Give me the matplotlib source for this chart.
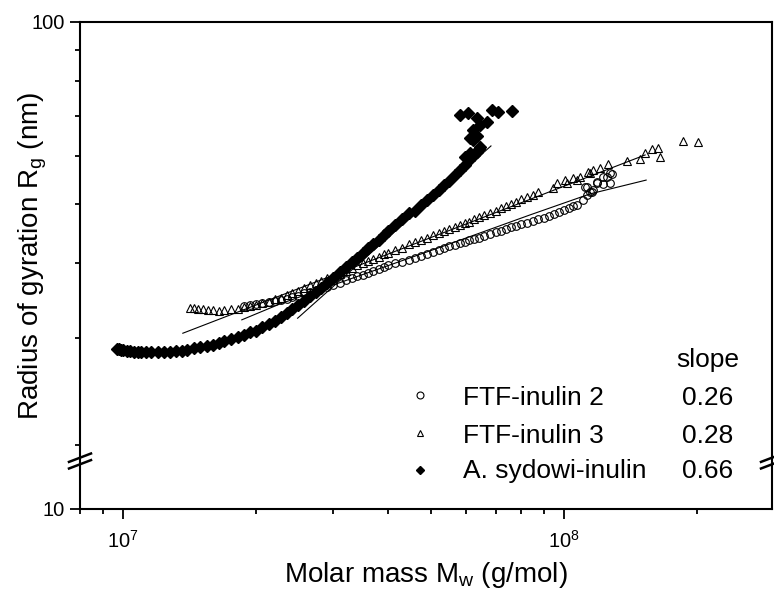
import numpy as np
import matplotlib
matplotlib.use('Agg')
import matplotlib.pyplot as plt
from matplotlib.ticker import FixedLocator, NullFormatter, FixedFormatter

plt.rcParams['font.family'] = ['Liberation Sans', 'DejaVu Sans']
plt.rcParams['mathtext.default'] = 'regular'

# molar mass in units of 1e7 g/mol, radius of gyration in nm
syd_m = [0.97, 0.98, 0.99, 1.0, 1.02, 1.04, 1.06, 1.08, 1.1, 1.13, 1.16, 1.2, 1.24, 1.28,
         1.32, 1.36, 1.4, 1.45, 1.5, 1.55, 1.6, 1.65, 1.7, 1.76, 1.82, 1.88, 1.94, 2.0,
         2.07, 2.14, 2.21, 2.28, 2.35, 2.42, 2.5, 2.58, 2.66, 2.74, 2.82, 2.9, 3.0, 3.1,
         3.2, 3.3, 3.4, 3.5, 3.6, 3.7, 3.8, 3.9, 4.0, 4.15, 4.3, 4.45, 4.6, 4.75, 4.9,
         5.05, 5.2, 5.35, 5.5, 5.65, 5.8, 5.95, 6.1, 6.25, 6.4,
         5.81, 6.06, 6.35, 6.87, 7.09, 7.62, 6.69, 6.45, 6.22, 6.12, 6.35, 6.22, 6.45,
         6.35, 6.12, 5.95]
syd_r = [28.8, 28.8, 28.7, 28.7, 28.6, 28.6, 28.5, 28.5, 28.5, 28.5, 28.5, 28.5, 28.5, 28.5,
         28.6, 28.6, 28.7, 28.9, 29.0, 29.2, 29.3, 29.5, 29.7, 29.9, 30.2, 30.4, 30.7, 30.9,
         31.3, 31.7, 32.1, 32.5, 33.0, 33.5, 34.1, 34.6, 35.2, 35.8, 36.4, 37.0, 37.8, 38.6,
         39.3, 40.1, 40.8, 41.5, 42.3, 43.0, 43.7, 44.5, 45.2, 46.2, 47.3, 48.4, 48.8, 49.8,
         50.8, 51.8, 52.8, 53.8, 54.7, 55.9, 56.9, 58.0, 59.1, 60.4, 61.6,
         70.2, 70.7, 69.4, 71.5, 70.9, 71.2, 68.3, 67.6, 66.3, 64.3, 64.8, 63.8, 62.1,
         61.0, 60.8, 59.8]

ftf3_m = [1.42, 1.45, 1.48, 1.52, 1.56, 1.6, 1.65, 1.7, 1.76, 1.82, 1.88, 1.94, 2.0, 2.07,
          2.14, 2.21, 2.28, 2.35, 2.42, 2.5, 2.58, 2.66, 2.74, 2.82, 2.9, 3.0, 3.1, 3.2, 3.3,
          3.4, 3.5, 3.6, 3.7, 3.8, 3.9, 4.0, 4.15, 4.3, 4.45, 4.6, 4.75, 4.9, 5.05, 5.2,
          5.35, 5.5, 5.65, 5.8, 5.95, 6.1, 6.25, 6.4, 6.6, 6.8, 7.0, 7.2, 7.4, 7.6, 7.8, 8.0,
          8.25, 8.5, 8.75,
          9.44, 9.64, 10.05, 10.16, 10.48, 10.70, 10.87, 11.34, 11.46, 11.64, 12.06, 12.58,
          13.90, 14.87, 15.27, 15.83, 16.34, 16.51, 18.61, 20.13]
ftf3_r = [33.7, 33.7, 33.6, 33.5, 33.4, 33.4, 33.3, 33.4, 33.5, 33.6, 33.8, 33.9, 34.1, 34.3,
          34.5, 34.8, 35.0, 35.4, 35.7, 36.0, 36.3, 36.7, 37.0, 37.3, 37.7, 38.1, 38.4, 38.8,
          39.2, 39.6, 40.0, 40.3, 40.6, 40.9, 41.3, 41.6, 42.0, 42.4, 42.9, 43.3, 43.6, 44.0,
          44.4, 44.8, 45.1, 45.5, 45.8, 46.2, 46.5, 46.8, 47.2, 47.6, 48.0, 48.4, 48.8, 49.3,
          49.7, 50.1, 50.5, 50.9, 51.4, 51.8, 52.3,
          53.2, 54.2, 54.8, 54.2, 55.2, 54.8, 55.4, 56.5, 56.3, 56.9, 57.4, 58.3,
          59.0, 59.4, 60.7, 61.7, 61.9, 59.8, 63.6, 63.3]

ftf2_m = [1.88, 1.94, 2.0, 2.07, 2.14, 2.21, 2.28, 2.35, 2.42, 2.5, 2.58, 2.66, 2.74, 2.82,
          2.9, 3.0, 3.1, 3.2, 3.3, 3.4, 3.5, 3.6, 3.7, 3.8, 3.9, 4.0, 4.15, 4.3, 4.45, 4.6,
          4.75, 4.9, 5.05, 5.2, 5.35, 5.5, 5.65, 5.8, 5.95, 6.1, 6.25, 6.4, 6.6, 6.8, 7.0,
          7.2, 7.4, 7.6, 7.8, 8.0, 8.25, 8.5, 8.75, 9.0, 9.25, 9.5, 9.75, 10.0, 10.25, 10.5,
          10.70, 11.04, 11.28, 11.46, 11.57, 11.64, 11.16, 11.28, 11.88, 11.88, 12.26, 12.26,
          12.72, 12.52, 12.72, 12.85]
ftf2_r = [34.0, 34.1, 34.2, 34.3, 34.5, 34.6, 34.7, 34.9, 35.1, 35.3, 35.6, 35.8, 36.1, 36.3,
          36.5, 36.8, 37.1, 37.4, 37.7, 38.0, 38.2, 38.5, 38.8, 39.1, 39.3, 39.6, 39.9, 40.2,
          40.5, 40.8, 41.1, 41.4, 41.7, 42.0, 42.3, 42.6, 42.8, 43.1, 43.3, 43.6, 43.8, 44.0,
          44.3, 44.7, 44.9, 45.2, 45.5, 45.8, 46.0, 46.3, 46.6, 46.9, 47.2, 47.4, 47.8, 48.2,
          48.5, 48.9, 49.3, 49.6,
          49.8, 50.8, 51.8, 52.3, 52.3, 52.8, 53.4, 53.4, 54.2, 54.4, 54.0, 55.4,
          54.2, 55.4, 56.3, 56.1]

# fitted curves
fit_syd_m = [2.49, 6.83]
fit_syd_r = [32.4, 62.4]
fit3_m = [1.368, 15.27]
fit3_r = [30.6, 60.3]
fit2_m = [1.861, 2.270, 3.271, 5.513, 8.375, 11.46, 15.35]
fit2_r = [32.2, 34.2, 37.6, 43.0, 48.0, 52.0, 54.8]

labels = ['FTF-inulin 2', 'FTF-inulin 3', 'A. sydowi-inulin']
slopes = ['0.26', '0.28', '0.66']

# broken log axis: log above the break, squeezed linear part down to 10
R_BREAK = 18.82
SQUEEZE = 48 / 605


def fwd(r):
    r = np.asarray(r, dtype=float)
    with np.errstate(all='ignore'):
        lg = np.log10(np.where(r > 0, r, np.nan))
        lin = np.log10(R_BREAK) - (R_BREAK - r) / (R_BREAK - 10) * SQUEEZE
    return np.where(r >= R_BREAK, lg, lin)


def inv(t):
    t = np.asarray(t, dtype=float)
    lb = np.log10(R_BREAK)
    with np.errstate(all='ignore'):
        up = 10.0 ** t
    return np.where(t >= lb, up, R_BREAK - (lb - t) / SQUEEZE * (R_BREAK - 10))


fig = plt.figure(figsize=(7.74, 5.93), dpi=100)
ax = fig.add_axes([80 / 774, 1 - 509 / 593, 692 / 774, 487 / 593])

e7 = 1e7
ax.plot(np.array(fit_syd_m) * e7, fit_syd_r, color='black', lw=0.8, zorder=1)
ax.plot(np.array(fit3_m) * e7, fit3_r, color='black', lw=0.8, zorder=1)
ax.plot(np.array(fit2_m) * e7, fit2_r, color='black', lw=0.8, zorder=1)

ax.plot(np.array(ftf2_m) * e7, ftf2_r, 'o', ls='none', ms=5.5, mfc='none', mec='black', mew=0.8)
ax.plot(np.array(ftf3_m) * e7, ftf3_r, '^', ls='none', ms=5.5, mfc='none', mec='black', mew=0.8)
ax.plot(np.array(syd_m) * e7, syd_r, 'D', ls='none', ms=6.5, color='black')

ax.set_xscale('log')
ax.set_yscale('function', functions=(fwd, inv))
ax.set_xlim(8e6, 2.96e8)
ax.set_ylim(10, 100)

ax.yaxis.set_major_locator(FixedLocator([10, 100]))
ax.yaxis.set_major_formatter(FixedFormatter(['10', '100']))
ax.yaxis.set_minor_locator(FixedLocator([20, 30, 40, 50, 60, 70, 80, 90]))
ax.yaxis.set_minor_formatter(NullFormatter())

ax.tick_params(which='both', direction='out', top=False, right=False, width=1.3)
ax.tick_params(which='major', length=7, labelsize=14.5)
ax.tick_params(which='minor', length=3.5)
ax.tick_params(axis='x', which='major', pad=8)
ax.tick_params(axis='y', which='major', pad=4)
for s in ax.spines.values():
    s.set_linewidth(1.5)

ax.set_xlabel(r'Molar mass M$_\mathregular{w}$ (g/mol)', fontsize=20)
ax.xaxis.set_label_coords(0.5, -0.105)
ax.set_ylabel(r'Radius of gyration R$_\mathregular{g}$ (nm)', fontsize=20)
ax.yaxis.set_label_coords(-0.045, 0.52)

# axis break marks
yb = (509 - 461) / 487
dx, dy, sep = 11 / 692, 4.2 / 487, 3.3 / 487
for xb in (0, 1):
    for off in (-sep, sep):
        ax.plot([xb - dx, xb + dx], [yb + off - dy, yb + off + dy], transform=ax.transAxes,
                color='black', lw=1.8, clip_on=False, zorder=5)

# legend drawn by hand
marker_y = [0.234, 0.156, 0.080]
text_y = [0.2136, 0.1355, 0.0637]
styles = [dict(marker='o', mfc='none', mec='black', ms=5, mew=0.8),
          dict(marker='^', mfc='none', mec='black', ms=5, mew=0.8),
          dict(marker='D', color='black', ms=4.5)]
for my, ty, lab, sl, st in zip(marker_y, text_y, labels, slopes, styles):
    ax.plot([0.491], [my], transform=ax.transAxes, ls='none', **st)
    ax.text(0.553, ty, lab, transform=ax.transAxes, fontsize=19, va='baseline', ha='left')
    ax.text(0.9075, ty, sl, transform=ax.transAxes, fontsize=19, va='baseline', ha='center')
ax.text(0.9075, 0.2916, 'slope', transform=ax.transAxes, fontsize=19, va='baseline', ha='center')

fig.savefig('out.png', dpi=100)
